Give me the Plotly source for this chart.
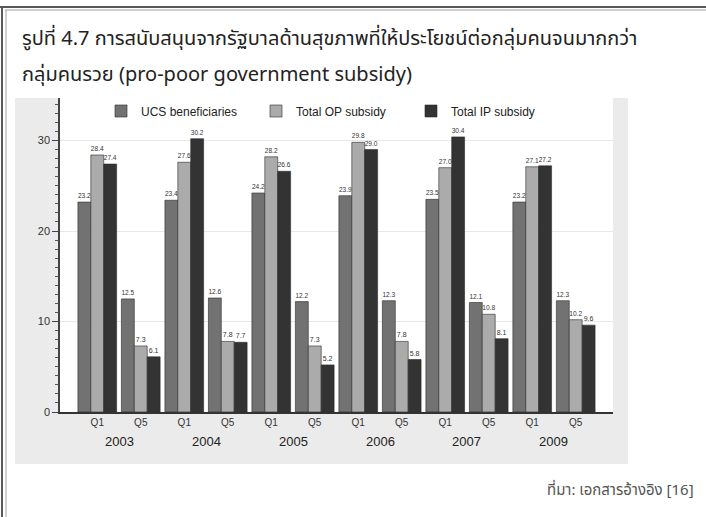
import plotly.graph_objects as go

# ---- data ----
years = ["2003", "2004", "2005", "2006", "2007", "2009"]
quintiles = ["Q1", "Q5"]
ucs_beneficiaries = [23.2, 12.5, 23.4, 12.6, 24.2, 12.2, 23.9, 12.3, 23.5, 12.1, 23.2, 12.3]
total_op_subsidy = [28.4, 7.3, 27.6, 7.8, 28.2, 7.3, 29.8, 7.8, 27.0, 10.8, 27.1, 10.2]
total_ip_subsidy = [27.4, 6.1, 30.2, 7.7, 26.6, 5.2, 29.0, 5.8, 30.4, 8.1, 27.2, 9.6]
series_names = ["UCS beneficiaries", "Total OP subsidy", "Total IP subsidy"]
series_colors = ["#727272", "#ababab", "#333333"]

title_line1 = "รูปที่ 4.7 การสนับสนุนจากรัฐบาลด้านสุขภาพที่ให้ประโยชน์ต่อกลุ่มคนจนมากกว่า"
title_line2 = "กลุ่มคนรวย (pro-poor government subsidy)"
source_text = "ที่มา: เอกสารอ้างอิง [16]"

categories = [f"{y} {q}" for y in years for q in quintiles]
tick_text = [q for y in years for q in quintiles]

# ---- layout geometry (pixels) ----
W, H = 706, 517
PL, PR, PT, PB = 60, 613, 98, 412


def px(xpix):
    return (xpix - PL) / (PR - PL)


def py(ypix):
    return (PB - ypix) / (PB - PT)


fig = go.Figure()
for name, vals, col in zip(series_names, [ucs_beneficiaries, total_op_subsidy, total_ip_subsidy], series_colors):
    fig.add_trace(go.Bar(
        x=categories, y=vals, name=name,
        marker=dict(color=col, line=dict(color="#2a2a2a", width=0.6)),
        text=[f"{v:.1f}" for v in vals], textposition="outside",
        textfont=dict(size=7, color="#333333", family="Liberation Sans, Arial, sans-serif"),
        cliponaxis=False,
    ))

FONT = "Liberation Sans, Arial, Helvetica, sans-serif"
THAI = "Noto Sans Thai, Noto Sans, Tahoma, sans-serif"

shapes = [
    # grey chart panel
    dict(type="rect", xref="paper", yref="paper", x0=px(15), x1=px(628), y0=py(464), y1=py(98),
         fillcolor="#ebebeb", line=dict(width=0), layer="below"),
    # white plot area
    dict(type="rect", xref="paper", yref="paper", x0=0, x1=1, y0=0, y1=1,
         fillcolor="#ffffff", line=dict(width=0), layer="below"),
    # page frame lines
    dict(type="line", xref="paper", yref="paper", x0=px(0), x1=px(706), y0=py(7), y1=py(7),
         line=dict(color="#5a5a5a", width=2)),
    dict(type="line", xref="paper", yref="paper", x0=px(5), x1=px(706), y0=py(10), y1=py(10),
         line=dict(color="#a0a0a0", width=1)),
    dict(type="line", xref="paper", yref="paper", x0=px(2), x1=px(2), y0=py(6), y1=py(517),
         line=dict(color="#5a5a5a", width=2)),
    dict(type="line", xref="paper", yref="paper", x0=px(6), x1=px(6), y0=py(10), y1=py(517),
         line=dict(color="#a0a0a0", width=1)),
]

annotations = [
    dict(text=title_line1, xref="paper", yref="paper", x=px(20), y=py(39), xanchor="left", yanchor="middle",
         showarrow=False, font=dict(size=20, color="#222222", family=THAI)),
    dict(text=title_line2, xref="paper", yref="paper", x=px(20), y=py(75), xanchor="left", yanchor="middle",
         showarrow=False, font=dict(size=20, color="#222222", family=THAI)),
    dict(text=source_text, xref="paper", yref="paper", x=px(696), y=py(490), xanchor="right", yanchor="middle",
         showarrow=False, font=dict(size=15, color="#555555", family=THAI)),
]
for i, yr in enumerate(years):
    annotations.append(dict(text=yr, xref="x", yref="paper", x=2 * i + 0.5, y=py(441),
                            xanchor="center", yanchor="middle", showarrow=False,
                            font=dict(size=13, color="#222222", family=FONT)))

fig.update_layout(
    width=W, height=H,
    margin=dict(l=PL, r=W - PR, t=PT, b=H - PB, pad=0),
    paper_bgcolor="#ffffff", plot_bgcolor="#ffffff",
    barmode="group", bargap=0.11, bargroupgap=0,
    font=dict(family=FONT, color="#222222"),
    showlegend=True,
    legend=dict(orientation="h", x=px(101), y=py(111), xanchor="left", yanchor="middle",
                bgcolor="rgba(0,0,0,0)", font=dict(size=12, family=FONT, color="#222222"),
                entrywidth=110, entrywidthmode="pixels", traceorder="normal"),
    shapes=shapes, annotations=annotations,
    xaxis=dict(type="category", categoryorder="array", categoryarray=categories,
               tickmode="array", tickvals=categories, ticktext=tick_text,
               range=[-0.857, 11.857], showgrid=False, ticks="",
               showline=True, linecolor="#333333", linewidth=1.5,
               tickfont=dict(size=10, color="#333333"), zeroline=False),
    yaxis=dict(range=[0, 34.7], dtick=10, tick0=0, showgrid=True, gridcolor="#e8e8e8", gridwidth=1,
               ticks="outside", ticklen=6, tickcolor="#444444", tickwidth=1,
               showline=True, linecolor="#444444", linewidth=1.5, zeroline=False,
               tickfont=dict(size=11, color="#333333"),
               minor=dict(dtick=1, ticks="outside", ticklen=3, tickcolor="#555555", showgrid=False)),
)

fig.write_html("out.html", config={"displayModeBar": False},
               post_script="document.body.style.margin='0px';document.body.style.overflow='hidden';")
